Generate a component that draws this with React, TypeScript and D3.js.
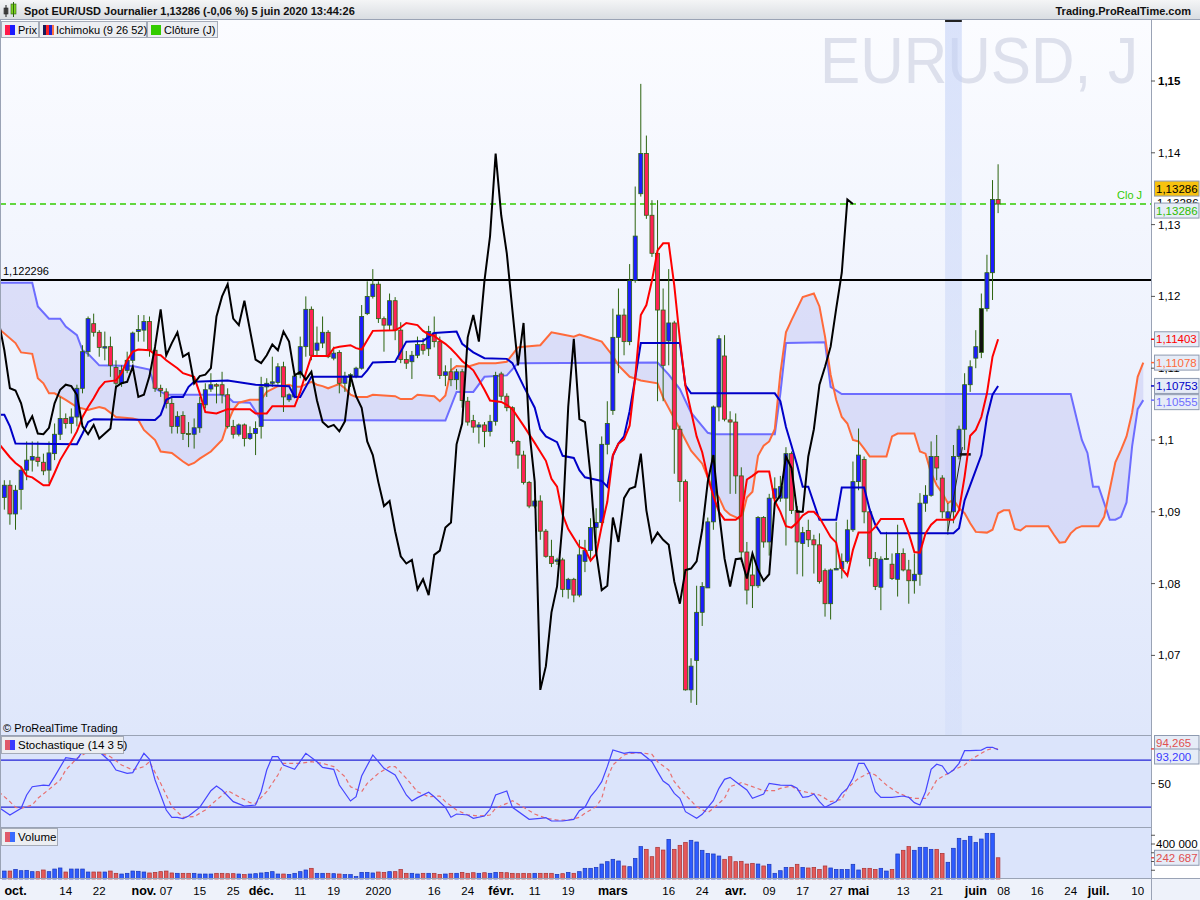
import React from "react";
import * as d3 from "d3";

// ---------- DATA (bar index 0 = 1 Oct 2019, daily bars, 25 Dec & 1 Jan skipped) ----------
const FIRST_BAR = -2;
const opens = [
  1.0920, 1.0937, 1.0897, 1.0931, 1.0958, 1.0972, 1.0976, 1.0969, 1.0958, 1.0981,
  1.1008, 1.1030, 1.1023, 1.1032, 1.1072, 1.1123, 1.1162, 1.1150, 1.1128, 1.1130,
  1.1101, 1.1079, 1.1097, 1.1111, 1.1151, 1.1153, 1.1165, 1.1125, 1.1072, 1.1067,
  1.1051, 1.1019, 1.1034, 1.1009, 1.1008, 1.1017, 1.1049, 1.1071, 1.1077, 1.1077,
  1.1063, 1.1019, 1.1008, 1.1021, 1.1002, 1.1009, 1.1019, 1.1074, 1.1079, 1.1080,
  1.1102, 1.1056, 1.1060, 1.1091, 1.1130, 1.1182, 1.1125, 1.1135, 1.1150, 1.1114,
  1.1122, 1.1079, 1.1089, 1.1089, 1.1100, 1.1176, 1.1200, 1.1217, 1.1169, 1.1160,
  1.1194, 1.1153, 1.1112, 1.1109, 1.1118, 1.1133, 1.1127, 1.1149, 1.1137, 1.1090,
  1.1095, 1.1084, 1.1095, 1.1054, 1.1027, 1.1018, 1.1021, 1.1012, 1.1026, 1.1092,
  1.1061, 1.1045, 1.0998, 1.0979, 1.0941, 1.0908, 1.0915, 1.0873, 1.0838, 1.0831,
  1.0833, 1.0792, 1.0806, 1.0784, 1.0831, 1.0846, 1.0878, 1.0885, 1.0994, 1.1041,
  1.1143, 1.1174, 1.1137, 1.1222, 1.1343, 1.1399, 1.1313, 1.1260, 1.1181, 1.1138,
  1.1163, 1.1015, 1.0942, 1.0652, 1.0693, 1.0760, 1.0794, 1.0886, 1.1046, 1.1117,
  1.1028, 1.1025, 1.0950, 1.0844, 1.0812, 1.0797, 1.0892, 1.0858, 1.0919, 1.0919,
  1.0919, 1.0981, 1.0902, 1.0856, 1.0874, 1.0861, 1.0854, 1.0818, 1.0772, 1.0819,
  1.0821, 1.0831, 1.0875, 1.0942, 1.0973, 1.0900, 1.0835, 1.0795, 1.0834, 1.0827,
  1.0806, 1.0842, 1.0819, 1.0804, 1.0813, 1.0912, 1.0923, 1.0977, 1.0947, 1.0891,
  1.0900, 1.0977, 1.1015, 1.1077, 1.1114, 1.1122, 1.1183, 1.1233, 1.1335,
];
const highs = [
  1.0944, 1.0944, 1.0937, 1.0963, 1.0998, 1.0998, 1.0998, 1.0981, 1.0998, 1.1023,
  1.1060, 1.1037, 1.1044, 1.1077, 1.1132, 1.1172, 1.1176, 1.1153, 1.1151, 1.1144,
  1.1111, 1.1104, 1.1123, 1.1151, 1.1174, 1.1174, 1.1172, 1.1130, 1.1077, 1.1072,
  1.1060, 1.1040, 1.1040, 1.1025, 1.1030, 1.1060, 1.1079, 1.1093, 1.1079, 1.1095,
  1.1072, 1.1028, 1.1023, 1.1023, 1.1019, 1.1026, 1.1088, 1.1086, 1.1116, 1.1107,
  1.1109, 1.1065, 1.1095, 1.1144, 1.1200, 1.1186, 1.1158, 1.1172, 1.1153, 1.1130,
  1.1125, 1.1095, 1.1093, 1.1102, 1.1188, 1.1221, 1.1238, 1.1221, 1.1172, 1.1204,
  1.1199, 1.1164, 1.1124, 1.1124, 1.1144, 1.1142, 1.1159, 1.1172, 1.1144, 1.1104,
  1.1114, 1.1099, 1.1099, 1.1060, 1.1035, 1.1025, 1.1025, 1.1035, 1.1095, 1.1095,
  1.1065, 1.1047, 1.1000, 1.0985, 1.0943, 1.0918, 1.0923, 1.0876, 1.0861, 1.0836,
  1.0836, 1.0808, 1.0808, 1.0861, 1.0861, 1.0891, 1.0905, 1.1005, 1.1054, 1.1183,
  1.1211, 1.1183, 1.1245, 1.1353, 1.1496, 1.1424, 1.1334, 1.1334, 1.1211, 1.1238,
  1.1166, 1.1020, 1.0945, 1.0696, 1.0797, 1.0802, 1.0892, 1.1048, 1.1146, 1.1146,
  1.1040, 1.1037, 1.0962, 1.0858, 1.0841, 1.0894, 1.0894, 1.0925, 1.0948, 1.0950,
  1.0990, 1.0984, 1.0908, 1.0879, 1.0889, 1.0868, 1.0870, 1.0821, 1.0821, 1.0886,
  1.0842, 1.0889, 1.0970, 1.1016, 1.0977, 1.0905, 1.0844, 1.0838, 1.0872, 1.0842,
  1.0882, 1.0849, 1.0833, 1.0842, 1.0926, 1.0937, 1.0998, 1.1007, 1.0951, 1.0912,
  1.0993, 1.1020, 1.1093, 1.1111, 1.1153, 1.1204, 1.1258, 1.1362, 1.1384,
];
const lows = [
  1.0903, 1.0882, 1.0875, 1.0903, 1.0944, 1.0956, 1.0963, 1.0951, 1.0940, 1.0972,
  1.1000, 1.1016, 1.1009, 1.1019, 1.1065, 1.1116, 1.1144, 1.1116, 1.1111, 1.1088,
  1.1072, 1.1074, 1.1093, 1.1107, 1.1137, 1.1137, 1.1116, 1.1067, 1.1060, 1.1044,
  1.1009, 1.1009, 1.1000, 1.0990, 1.0988, 1.1010, 1.1044, 1.1067, 1.1051, 1.1051,
  1.1016, 1.1002, 1.1005, 1.0991, 1.1000, 1.0979, 1.1002, 1.1060, 1.1074, 1.1077,
  1.1039, 1.1053, 1.1058, 1.1086, 1.1116, 1.1111, 1.1118, 1.1128, 1.1114, 1.1111,
  1.1065, 1.1067, 1.1074, 1.1086, 1.1098, 1.1174, 1.1197, 1.1163, 1.1123, 1.1153,
  1.1139, 1.1107, 1.1099, 1.1085, 1.1114, 1.1119, 1.1117, 1.1129, 1.1085, 1.1075,
  1.1075, 1.1070, 1.1045, 1.1020, 1.1010, 1.0995, 1.0990, 1.1005, 1.1020, 1.1055,
  1.1040, 1.0995, 1.0960, 1.0938, 1.0905, 1.0905, 1.0861, 1.0836, 1.0823, 1.0826,
  1.0781, 1.0779, 1.0774, 1.0781, 1.0816, 1.0831, 1.0856, 1.0881, 1.0980, 1.1035,
  1.1093, 1.1118, 1.1132, 1.1219, 1.1339, 1.1308, 1.1255, 1.1054, 1.1054, 1.1104,
  1.0953, 1.0914, 1.0651, 1.0634, 1.0631, 1.0741, 1.0794, 1.0875, 1.1026, 1.1026,
  1.0925, 1.0925, 1.0830, 1.0771, 1.0766, 1.0794, 1.0850, 1.0839, 1.0917, 1.0914,
  1.0853, 1.0897, 1.0813, 1.0810, 1.0851, 1.0814, 1.0800, 1.0754, 1.0750, 1.0819,
  1.0807, 1.0828, 1.0872, 1.0930, 1.0884, 1.0824, 1.0791, 1.0763, 1.0833, 1.0805,
  1.0782, 1.0817, 1.0772, 1.0786, 1.0797, 1.0900, 1.0921, 1.0944, 1.0891, 1.0868,
  1.0884, 1.0973, 1.0986, 1.1067, 1.1100, 1.1114, 1.1179, 1.1195, 1.1316,
];
const closes = [
  1.0937, 1.0897, 1.0930, 1.0958, 1.0972, 1.0977, 1.0970, 1.0957, 1.0982, 1.1008,
  1.1030, 1.1023, 1.1032, 1.1072, 1.1123, 1.1169, 1.1150, 1.1129, 1.1130, 1.1104,
  1.1079, 1.1097, 1.1111, 1.1149, 1.1154, 1.1165, 1.1125, 1.1072, 1.1069, 1.1051,
  1.1019, 1.1033, 1.1009, 1.1008, 1.1017, 1.1051, 1.1070, 1.1077, 1.1075, 1.1063,
  1.1019, 1.1008, 1.1021, 1.1002, 1.1009, 1.1016, 1.1074, 1.1079, 1.1081, 1.1102,
  1.1060, 1.1063, 1.1089, 1.1130, 1.1182, 1.1118, 1.1135, 1.1150, 1.1116, 1.1121,
  1.1079, 1.1089, 1.1091, 1.1100, 1.1172, 1.1200, 1.1217, 1.1169, 1.1160, 1.1194,
  1.1153, 1.1112, 1.1107, 1.1118, 1.1133, 1.1125, 1.1151, 1.1137, 1.1090, 1.1095,
  1.1084, 1.1095, 1.1055, 1.1025, 1.1018, 1.1021, 1.1012, 1.1026, 1.1090, 1.1061,
  1.1045, 1.0998, 1.0979, 1.0941, 1.0908, 1.0915, 1.0873, 1.0838, 1.0828, 1.0833,
  1.0792, 1.0806, 1.0784, 1.0840, 1.0846, 1.0878, 1.0885, 1.0994, 1.1023, 1.1143,
  1.1174, 1.1137, 1.1222, 1.1284, 1.1399, 1.1313, 1.1260, 1.1181, 1.1104, 1.1163,
  1.1015, 1.0942, 1.0652, 1.0685, 1.0760, 1.0796, 1.0886, 1.1046, 1.1141, 1.1029,
  1.1025, 1.0950, 1.0844, 1.0791, 1.0797, 1.0892, 1.0858, 1.0919, 1.0932, 1.0935,
  1.0981, 1.0902, 1.0858, 1.0871, 1.0861, 1.0854, 1.0803, 1.0772, 1.0819, 1.0821,
  1.0831, 1.0875, 1.0942, 1.0979, 1.0900, 1.0835, 1.0796, 1.0834, 1.0835, 1.0807,
  1.0842, 1.0819, 1.0804, 1.0813, 1.0912, 1.0923, 1.0977, 1.0961, 1.0900, 1.0900,
  1.0977, 1.1015, 1.1077, 1.1102, 1.1130, 1.1183, 1.1233, 1.1335, 1.13286,
];
// volume, thousands
const volumes = [
  91, 91, 110, 95, 99, 84, 84, 103, 84, 114,
  126, 80, 114, 114, 114, 80, 80, 80, 80, 91,
  65, 57, 65, 91, 88, 80, 69, 76, 84, 91,
  69, 65, 65, 65, 65, 57, 57, 57, 65, 65,
  61, 61, 57, 50, 57, 61, 69, 76, 84, 57,
  57, 53, 65, 84, 103, 122, 65, 65, 65, 61,
  57, 50, 50, 27, 76, 76, 69, 80, 76, 84,
  84, 110, 65, 65, 57, 65, 65, 65, 53, 57,
  65, 65, 76, 65, 72, 65, 72, 65, 76, 76,
  72, 65, 61, 65, 61, 65, 65, 65, 65, 53,
  61, 76, 65, 84, 122, 122, 133, 171, 198, 225,
  206, 149, 141, 236, 370, 339, 255, 362, 331, 453,
  339, 385, 419, 442, 423, 328, 293, 286, 263, 225,
  255, 198, 202, 171, 179, 171, 149, 168, 65, 95,
  133, 133, 168, 133, 126, 133, 110, 149, 126, 110,
  110, 110, 168, 103, 122, 122, 110, 122, 91, 110,
  286, 328, 370, 328, 362, 362, 339, 339, 293, 191,
  351, 465, 442, 488, 419, 457, 522, 522, 242.687,
];

// Ichimoku lines: [bar, price]
const tenkan: [number, number][] = [[-3,1.0995],[-1,1.0976],[0,1.0968],[1,1.0962],[2,1.0950],[3,1.0948],[5,1.0937],[6,1.0937],[7,1.0954],[8,1.0972],[10,1.0998],[11,1.1012],[12,1.1032],[13,1.1046],[14,1.1058],[15,1.1072],[16,1.1081],[18,1.1083],[19,1.1093],[20,1.1111],[21,1.1123],[22,1.1126],[24,1.1125],[25,1.1119],[26,1.1118],[27,1.1111],[29,1.1100],[30,1.1093],[32,1.1088],[33,1.1065],[34,1.1039],[36,1.1037],[38,1.1043],[42,1.1043],[43,1.1037],[45,1.1037],[46,1.1047],[50,1.1047],[51,1.1067],[52,1.1093],[53,1.1117],[56,1.1117],[57,1.1128],[58,1.1130],[60,1.1132],[61,1.1128],[62,1.1126],[63,1.1139],[64,1.1152],[68,1.1153],[69,1.1157],[70,1.1163],[72,1.1160],[73,1.1152],[74,1.1147],[75,1.1145],[76,1.1139],[77,1.1134],[78,1.1127],[79,1.1119],[80,1.1110],[82,1.1097],[83,1.1084],[84,1.1070],[85,1.1055],[87,1.1053],[88,1.1049],[89,1.1043],[91,1.1020],[93,1.0996],[95,1.0971],[96,1.0946],[97,1.0935],[98,1.0896],[99,1.0876],[101,1.0851],[102,1.0848],[103,1.0832],[104,1.0841],[105,1.0880],[106,1.0914],[107,1.0979],[108,1.0995],[109,1.1001],[110,1.1020],[111,1.1087],[112,1.1174],[113,1.1188],[114,1.1222],[115,1.1264],[116,1.1274],[117,1.1274],[118,1.1215],[119,1.1140],[120,1.1075],[121,1.1040],[122,1.1005],[123,1.0983],[124,1.0948],[125,1.0922],[126,1.0900],[127,1.0889],[129,1.0889],[130,1.0895],[131,1.0945],[132,1.0950],[133,1.0956],[135,1.0956],[136,1.0915],[137,1.0900],[138,1.0880],[139,1.0878],[140,1.0885],[141,1.0895],[142,1.0900],[143,1.0900],[144,1.0892],[146,1.0865],[147,1.0857],[148,1.0821],[149,1.0811],[150,1.0847],[151,1.0871],[153,1.0871],[154,1.0879],[155,1.0890],[159,1.0890],[160,1.0870],[161,1.0844],[162,1.0843],[163,1.0870],[164,1.0882],[165,1.0889],[168,1.0889],[169,1.0902],[170,1.0949],[171,1.1006],[172,1.1014],[173,1.1032],[174,1.1065],[175,1.1116],[176,1.11403]];
const kijun: [number, number][] = [[-3,1.1035],[-2,1.1035],[-1,1.1019],[0,1.0995],[11,1.0994],[12,1.1009],[13,1.1025],[14,1.1029],[25,1.1028],[26,1.1035],[27,1.1056],[28,1.1060],[30,1.1060],[31,1.1074],[32,1.1081],[38,1.1083],[43,1.1077],[49,1.1075],[50,1.1060],[51,1.1060],[52,1.1074],[53,1.1088],[62,1.1088],[63,1.1097],[64,1.1108],[68,1.1109],[70,1.1137],[73,1.1138],[75,1.1149],[79,1.1151],[80,1.1134],[82,1.1122],[84,1.1114],[88,1.1113],[89,1.1107],[91,1.1075],[93,1.1045],[94,1.1015],[95,1.1005],[97,1.0997],[98,1.0978],[100,1.0975],[101,1.0958],[102,1.0948],[105,1.0943],[106,1.0935],[107,1.0978],[108,1.0995],[109,1.1005],[110,1.1040],[111,1.1086],[112,1.1135],[119,1.1135],[120,1.1076],[121,1.1065],[136,1.1065],[137,1.1054],[138,1.1018],[139,1.0992],[140,1.0965],[141,1.0935],[142,1.0935],[144,1.0889],[147,1.0889],[148,1.0934],[152,1.0934],[153,1.0903],[154,1.0882],[155,1.0870],[168,1.0870],[169,1.0877],[170,1.0916],[173,1.0979],[174,1.1032],[175,1.1063],[176,1.10753]];
const senkouA: [number, number][] = [[-3,1.1155],[0,1.1135],[1,1.1122],[3,1.1120],[4,1.1086],[5,1.1079],[6,1.1065],[7,1.1065],[9,1.1056],[11,1.1046],[13,1.1042],[15,1.1046],[16,1.1044],[18,1.1032],[21,1.1030],[22,1.1028],[23,1.1014],[25,1.1000],[26,1.0984],[28,1.0982],[30,1.0970],[31,1.0965],[32,1.0968],[33,1.0974],[35,1.0984],[37,1.1000],[38,1.1024],[39,1.1042],[40,1.1052],[42,1.1056],[44,1.1056],[45,1.1067],[47,1.1075],[49,1.1077],[50,1.1074],[51,1.1074],[53,1.1081],[54,1.1077],[55,1.1075],[56,1.1072],[57,1.1075],[58,1.1078],[59,1.1072],[60,1.1063],[61,1.1060],[63,1.1060],[64,1.1063],[68,1.1061],[69,1.1057],[71,1.1057],[72,1.1063],[75,1.1061],[76,1.1054],[77,1.1062],[78,1.1097],[79,1.1103],[81,1.1102],[83,1.1107],[86,1.1107],[88,1.1109],[90,1.1129],[91,1.1130],[94,1.1132],[96,1.1150],[98,1.1147],[100,1.1144],[101,1.1147],[103,1.1142],[105,1.1137],[107,1.1117],[108,1.1104],[110,1.1088],[112,1.1083],[115,1.1079],[116,1.1059],[118,1.1030],[119,1.1015],[121,1.0985],[123,1.0967],[124,1.0948],[125,1.0931],[126,1.0920],[127,1.0903],[128,1.0896],[130,1.0889],[131,1.0920],[132,1.0928],[133,1.0978],[134,1.0992],[135,1.0998],[136,1.1015],[137,1.1093],[138,1.1150],[139,1.1167],[141,1.1199],[143,1.1204],[144,1.1186],[145,1.1144],[146,1.1091],[147,1.1056],[148,1.1032],[149,1.1023],[150,1.1000],[151,1.0998],[152,1.0988],[153,1.0977],[156,1.0977],[157,1.1005],[158,1.1009],[161,1.1009],[162,1.0984],[163,1.0981],[164,1.0954],[165,1.0937],[166,1.0926],[167,1.0912],[168,1.0917],[169,1.0905],[170,1.0898],[171,1.0884],[172,1.0872],[174,1.0871],[175,1.0875],[176,1.0898],[177,1.0902],[178,1.0902],[179,1.0876],[180,1.0874],[181,1.0880],[185,1.0880],[186,1.0868],[187,1.0857],[188,1.0858],[189,1.0870],[190,1.0877],[191,1.0880],[194,1.0880],[195,1.0893],[196,1.0931],[197,1.0969],[198,1.0986],[199,1.1005],[200,1.1038],[201,1.1088],[202,1.11078]];
const senkouB: [number, number][] = [[-3,1.1219],[3,1.1219],[4,1.1186],[6,1.1169],[8,1.1169],[9,1.1158],[11,1.1146],[12,1.1125],[13,1.1120],[15,1.1104],[21,1.1103],[24,1.1098],[25,1.1072],[27,1.1063],[37,1.1063],[38,1.1060],[39,1.1053],[42,1.1052],[44,1.1028],[77,1.1027],[79,1.1067],[82,1.1067],[84,1.1088],[88,1.1090],[90,1.1107],[115,1.1108],[117,1.1091],[119,1.1071],[121,1.1038],[124,1.1010],[125,1.1008],[136,1.1008],[137,1.1065],[138,1.1135],[145,1.1136],[146,1.1074],[148,1.1064],[189,1.1064],[190,1.1032],[191,1.1000],[192,1.0982],[193,1.0935],[194,1.0935],[195,1.0912],[196,1.0889],[197,1.0889],[198,1.0893],[199,1.0913],[200,1.0991],[201,1.1043],[202,1.10555]];

// Stochastic (14 3 5): [bar, value]
const stochK: [number, number][] = [[-3,19.6],[-1,9.8],[1,18.4],[2,35.4],[3,46],[5,48.1],[6,47.3],[7,58.8],[9,83.1],[11,81],[12,90.7],[14,92],[15,90.7],[17,77.9],[18,67.3],[20,63],[21,63.9],[23,88.6],[24,81],[25,54.5],[27,16.2],[28,6.9],[29,6.9],[30,5.2],[31,8.6],[33,19.6],[35,40.9],[36,46.9],[37,41.8],[39,26.9],[41,21.3],[43,22.6],[44,39.6],[45,67.3],[46,84.3],[47,84.3],[48,73.7],[50,68.2],[52,88.6],[54,77.9],[55,70.7],[57,68.2],[58,48.1],[60,27.7],[61,33.2],[62,59.6],[64,86.5],[66,69.4],[68,60.9],[70,35.4],[71,27.7],[72,32],[74,38.8],[75,33.2],[77,19.6],[78,6.9],[79,11.1],[81,9.8],[82,5.6],[84,8.6],[85,17.1],[86,35.4],[88,40.5],[89,19.6],[92,4.3],[94,5.6],[95,6.4],[96,2.2],[98,2.2],[100,4.3],[101,15.4],[102,19.6],[103,33.2],[104,41.8],[105,52.4],[106,71.6],[107,92.8],[109,88.6],[110,89.9],[112,89.4],[114,77.9],[115,65.2],[116,53.3],[117,48.1],[118,37.5],[119,31.1],[120,14.1],[122,5.6],[123,10.7],[125,28.1],[126,43.9],[127,55.4],[128,57.9],[129,52.4],[131,41.8],[132,31.1],[134,36.7],[135,50.3],[137,48.1],[139,47.7],[140,43.9],[141,32.4],[142,33.2],[143,36.7],[144,26.9],[145,19.6],[147,26.9],[148,37.5],[149,43.9],[150,56.7],[151,75.8],[152,75.8],[153,63],[154,39.6],[155,32.4],[157,32.4],[159,34.1],[160,32.4],[161,25.6],[162,22.6],[163,39.6],[164,68.2],[165,74.6],[166,72.4],[167,62.2],[168,67.3],[169,75.8],[170,92],[171,92],[173,92.8],[174,96.3],[175,96.3],[176,93.2]];
const stochD: [number, number][] = [[-3,39.6],[-1,26.9],[0,19.6],[1,18.4],[3,22.6],[4,31.1],[6,42.6],[8,54.5],[9,67.3],[11,82.2],[13,90.7],[15,89.4],[17,84.3],[19,73.7],[21,67.3],[23,71.6],[24,77.9],[26,50.3],[28,20.5],[30,6.9],[32,7.7],[34,16.2],[36,29],[38,40.9],[40,33.2],[42,25.6],[43,24.7],[45,39.6],[47,60.9],[48,75.8],[51,75.8],[53,77.9],[55,75.8],[57,71.6],[59,58.8],[60,46],[62,39.6],[63,50.3],[65,63],[67,71.6],[68,71.6],[70,56.7],[72,39.6],[74,33.2],[76,34.1],[77,26.9],[79,16.2],[81,9.8],[83,8.6],[85,9.8],[86,18.4],[88,24.7],[89,28.1],[91,19.6],[93,11.1],[95,5.6],[97,3.4],[99,3.4],[101,6.9],[102,12],[104,20.5],[105,31.1],[106,56.7],[107,73.7],[109,86.5],[110,88.6],[112,89.4],[114,87.3],[115,77.9],[117,67.3],[118,52.4],[120,35.4],[122,20.5],[124,12.8],[125,18.4],[127,31.1],[128,46],[130,51.1],[132,46],[134,40.9],[136,40.9],[137,43.9],[139,46.9],[140,41.8],[142,38.4],[144,35.4],[146,26.9],[148,29.8],[149,43.9],[151,56.7],[153,63.9],[154,60.9],[156,48.1],[158,38.4],[160,32.4],[161,31.1],[163,31.1],[164,41.8],[165,54.5],[167,63],[168,67.3],[170,73.7],[171,80],[173,88.6],[174,92.8],[175,94.9],[176,94.265]];

// x-axis labels
const axisLabels = ["oct.", "14", "22", "nov.", "07", "15", "25", "déc.", "11", "19", "2020", "16", "24", "févr.", "11", "19", "mars", "16", "24", "avr.", "09", "17", "27", "mai", "13", "21", "juin", "08", "16", "24", "juil.", "10"];
const axisBars = [0, 9, 15, 23, 27, 33, 39, 44, 51, 57, 65, 75, 81, 87, 93, 99, 107, 117, 123, 129, 135, 141, 147, 151, 159, 165, 172, 177, 183, 189, 194, 201];
const priceTicks = [1.07, 1.08, 1.09, 1.10, 1.11, 1.12, 1.13, 1.14, 1.15];
const volumeTicks = [100, 200, 300, 400, 500];
const refLevel = 1.122296;
const lastClose = 1.13286;
const stochLevels = [20, 80];
const highlightBars = [167, 169];
// user drawings on the chart: short trend segment and horizontal mark; bar drawn in black
const trendSegment: [number, number][] = [[167, 1.0873], [169.6, 1.0990]];
const markSegment: [number, number][] = [[169.1, 1.0980], [171.1, 1.0980]];
const blackBars = [173];

const FONT = "'Liberation Sans', Arial, sans-serif";

export default function App() {
  const PR = 1151;
  const MAIN_T = 20, MAIN_B = 735, ST_B = 827, VOL_B = 878;
  const x = d3.scaleLinear().domain([0, 176]).range([15.5, 15.5 + 5.583 * 176]);
  const y = d3.scaleLinear().domain([1.07, 1.15]).range([655.4, 81]);
  const ys = d3.scaleLinear().domain([0, 100]).range([822.7, 744.4]);
  const yv = d3.scaleLinear().domain([0, 400]).range([879, 844]);

  const bars = closes.map((c, k) => ({ i: k + FIRST_BAR, o: opens[k], h: highs[k], l: lows[k], c, v: volumes[k] }));
  const pline = d3.line<[number, number]>().x((d) => x(d[0])).y((d) => y(d[1]));
  const sline = d3.line<[number, number]>().x((d) => x(d[0])).y((d) => ys(d[1]));
  const chikou: [number, number][] = bars.map((b) => [b.i - 26, b.c]);
  const cloud = (pline([...senkouA, ...senkouB.slice().reverse()]) || "") + "Z";

  const fmtPrice = (v: number) => String(+v.toFixed(2)).replace(".", ",");
  const fmt5 = (v: number) => v.toFixed(5).replace(".", ",");

  const UP = "#1c1cff", DOWN = "#ff2255", EDGE = "#2d6410";

  const box = (val: string, cy: number, color: string, bg = "#e6ecf7", key?: string) => (
    <g key={key || val + cy}>
      <rect x={1154.5} y={cy - 7.5} width={44.5} height={15} fill={bg} stroke="#8e9ab0" strokeWidth={1} />
      <text x={1156} y={cy + 4.2} fontSize={11.5} fill={color} fontFamily={FONT}>{val}</text>
    </g>
  );

  return (
    <svg width={1200} height={900} style={{ position: "absolute", left: 0, top: 0, background: "#fff" }} fontFamily={FONT}>
      <defs>
        <linearGradient id="mainbg" x1="0" y1="0" x2="0" y2="1">
          <stop offset="0" stopColor="#fbfcff" />
          <stop offset="1" stopColor="#dfe7fb" />
        </linearGradient>
        <linearGradient id="hdr" x1="0" y1="0" x2="0" y2="1">
          <stop offset="0" stopColor="#f4f5f6" />
          <stop offset="1" stopColor="#d8dce1" />
        </linearGradient>
        <linearGradient id="band" x1="0" y1="0" x2="0" y2="1">
          <stop offset="0" stopColor="#c4d2f7" stopOpacity={0.6} />
          <stop offset="1" stopColor="#c4d2f7" stopOpacity={0.25} />
        </linearGradient>
        <clipPath id="mainclip"><rect x={0} y={MAIN_T} width={PR} height={MAIN_B - MAIN_T} /></clipPath>
        <clipPath id="stclip"><rect x={0} y={MAIN_B} width={PR} height={ST_B - MAIN_B} /></clipPath>
      </defs>

      {/* backgrounds */}
      <rect x={0} y={MAIN_T} width={PR} height={MAIN_B - MAIN_T} fill="url(#mainbg)" />
      <rect x={0} y={MAIN_B} width={PR} height={ST_B - MAIN_B} fill="#dbe4fb" />
      <rect x={0} y={ST_B} width={PR} height={VOL_B - ST_B} fill="#dbe4fb" />
      <rect x={0} y={VOL_B} width={1200} height={900 - VOL_B} fill="#eef2fa" />
      <rect x={PR} y={MAIN_T} width={1200 - PR} height={VOL_B - MAIN_T} fill="#ffffff" />

      {/* watermark */}
      <text x={1138} y={83} textAnchor="end" fontSize={64} fill="#dde0ec" textLength={318} lengthAdjust="spacingAndGlyphs">EURUSD, J</text>

      <g clipPath="url(#mainclip)">
        {/* highlight band */}
        <rect x={x(highlightBars[0] - 0.5)} y={MAIN_T} width={x(highlightBars[1] + 0.5) - x(highlightBars[0] - 0.5)} height={MAIN_B - MAIN_T} fill="url(#band)" />
        <rect x={x(highlightBars[0] - 0.5)} y={MAIN_T} width={x(highlightBars[1] + 0.5) - x(highlightBars[0] - 0.5)} height={2} fill="#222" />

        {/* cloud */}
        <path d={cloud} fill="#c6c8f4" opacity={0.5} />
        <path d={pline(senkouB) || ""} fill="none" stroke="#6d6dff" strokeWidth={2} />
        <path d={pline(senkouA) || ""} fill="none" stroke="#ff6a3a" strokeWidth={2} />

        {/* reference lines */}
        <line x1={0} x2={PR} y1={y(refLevel)} y2={y(refLevel)} stroke="#000" strokeWidth={2} />
        <line x1={0} x2={PR} y1={y(lastClose)} y2={y(lastClose)} stroke="#33cc00" strokeWidth={1.6} strokeDasharray="6 4" />

        {/* candles */}
        {bars.map((b) => {
          const cx = x(b.i);
          const up = b.c >= b.o;
          const top = y(Math.max(b.o, b.c));
          const hgt = Math.max(1, Math.abs(y(b.o) - y(b.c)));
          const fill = blackBars.includes(b.i) ? "#111" : up ? UP : DOWN;
          return (
            <g key={"c" + b.i}>
              <line x1={cx} x2={cx} y1={y(b.h)} y2={y(b.l)} stroke={EDGE} strokeWidth={1} />
              <rect x={cx - 2} y={top} width={4} height={hgt} fill={fill} stroke={EDGE} strokeWidth={0.8} />
            </g>
          );
        })}

        {/* drawings */}
        <path d={pline(trendSegment) || ""} fill="none" stroke="#222" strokeWidth={1} />
        <path d={pline(markSegment) || ""} fill="none" stroke="#111" strokeWidth={2.5} />

        {/* ichimoku lines */}
        <path d={pline(kijun) || ""} fill="none" stroke="#0000c8" strokeWidth={2} />
        <path d={pline(tenkan) || ""} fill="none" stroke="#ff0000" strokeWidth={2} />
        <path d={pline(chikou) || ""} fill="none" stroke="#000" strokeWidth={2} />
      </g>

      <text x={3} y={y(refLevel) - 5} fontSize={11} fill="#000">1,122296</text>
      <text x={1117} y={y(lastClose) - 5} fontSize={11} fill="#33cc00">Clo J</text>
      <text x={3} y={732} fontSize={11} fill="#000">© ProRealTime Trading</text>

      {/* stochastic panel */}
      <g clipPath="url(#stclip)">
        {stochLevels.map((lv) => (
          <line key={"lv" + lv} x1={0} x2={PR} y1={ys(lv)} y2={ys(lv)} stroke="#2323d6" strokeWidth={1.2} />
        ))}
        <path d={sline(stochD) || ""} fill="none" stroke="#e87070" strokeWidth={1.2} strokeDasharray="4 3" />
        <path d={sline(stochK) || ""} fill="none" stroke="#4646ff" strokeWidth={1.2} />
      </g>

      {/* volume */}
      {bars.map((b) => {
        const up = b.c >= b.o;
        return (
          <rect key={"v" + b.i} x={x(b.i) - 1.8} y={yv(b.v)} width={3.6} height={yv(0) - yv(b.v)}
            fill={up ? "#2e5cff" : "#e45a5a"} stroke={up ? "#1a36b8" : "#a83232"} strokeWidth={0.7} />
        );
      })}

      {/* panel borders */}
      <line x1={0} x2={PR} y1={MAIN_B + 0.5} y2={MAIN_B + 0.5} stroke="#9aa3b5" />
      <line x1={0} x2={PR} y1={ST_B + 0.5} y2={ST_B + 0.5} stroke="#9aa3b5" />
      <line x1={0} x2={1200} y1={VOL_B + 0.5} y2={VOL_B + 0.5} stroke="#9aa3b5" />
      <line x1={PR + 0.5} x2={PR + 0.5} y1={MAIN_T} y2={900} stroke="#9aa3b5" />
      <line x1={0.5} x2={0.5} y1={MAIN_T} y2={VOL_B} stroke="#9aa3b5" />

      {/* price axis */}
      {priceTicks.map((p) => (
        <g key={"pt" + p}>
          <line x1={PR} x2={PR + 4} y1={y(p)} y2={y(p)} stroke="#555" />
          <text x={PR + 7} y={y(p) + 4} fontSize={11.5} fontWeight={p === 1.15 ? "bold" : "normal"} fill="#000">{fmtPrice(p)}</text>
        </g>
      ))}
      {/* last value labels */}
      <text x={1157} y={y(lastClose) + 3} fontSize={11.5} fill="#000">{fmt5(lastClose)}</text>
      {box(fmt5(lastClose), y(lastClose) - 15.5, "#000", "#f7c20f", "gold")}
      {box(fmt5(lastClose), y(lastClose) + 6.5, "#2dbb00", "#e6ecf7", "green")}
      {[
        { v: tenkan[tenkan.length - 1][1], c: "#ff0000", dy: 0 },
        { v: senkouA[senkouA.length - 1][1], c: "#ff6a3a", dy: 0 },
        { v: kijun[kijun.length - 1][1], c: "#0000c8", dy: 0 },
        { v: senkouB[senkouB.length - 1][1], c: "#6d6dff", dy: 2 },
      ].map((d) => (
        <g key={"lab" + d.v}>
          <line x1={PR} x2={PR + 4} y1={y(d.v)} y2={y(d.v)} stroke={d.c} strokeWidth={1.5} />
          {box(fmt5(d.v), y(d.v) + d.dy, d.c)}
        </g>
      ))}

      {/* stoch axis */}
      <line x1={PR} x2={PR + 4} y1={ys(50)} y2={ys(50)} stroke="#555" />
      <text x={PR + 7} y={ys(50) + 4} fontSize={11.5} fill="#000">50</text>
      <line x1={PR} x2={PR + 4} y1={ys(94.265)} y2={ys(94.265)} stroke="#e05050" strokeWidth={1.5} />
      {box(stochD[stochD.length - 1][1].toFixed(3).replace(".", ","), 743, "#e05050", "#e6ecf7", "sd")}
      {box(stochK[stochK.length - 1][1].toFixed(3).replace(".", ","), 756.5, "#3a3aff", "#e6ecf7", "sk")}

      {/* volume axis */}
      {volumeTicks.map((t) => (
        <line key={"vt" + t} x1={PR} x2={PR + 4} y1={yv(t)} y2={yv(t)} stroke="#555" />
      ))}
      <text x={PR + 5} y={yv(400) + 4} fontSize={11.5} fill="#000">400 000</text>
      <line x1={PR} x2={PR + 4} y1={yv(volumes[volumes.length - 1])} y2={yv(volumes[volumes.length - 1])} stroke="#e05050" strokeWidth={1.5} />
      {box("242 687", yv(volumes[volumes.length - 1]), "#e05050", "#e6ecf7", "vl")}

      {/* time axis */}
      {axisLabels.map((lab, k) => {
        const bold = isNaN(+lab);
        return (
          <text key={"ax" + k} x={x(axisBars[k])} y={895} textAnchor="middle" fontSize={bold ? 12.5 : 11.5} fontWeight={bold ? "bold" : "normal"} fill="#000">{lab}</text>
        );
      })}

      {/* header */}
      <rect x={0} y={0} width={1200} height={MAIN_T} fill="url(#hdr)" />
      <line x1={0} x2={1200} y1={MAIN_T - 0.5} y2={MAIN_T - 0.5} stroke="#9aa3b5" />
      <rect x={4} y={8} width={4} height={6} fill="#555" stroke="#222" strokeWidth={0.6} />
      <line x1={6} x2={6} y1={5} y2={17} stroke="#222" />
      <rect x={11} y={4} width={5} height={10} fill="#7ed321" stroke="#2d6410" strokeWidth={0.6} />
      <line x1={13.5} x2={13.5} y1={2} y2={17} stroke="#2d6410" />
      <text x={24} y={15} fontSize={11} fontWeight="bold" fill="#111">Spot EUR/USD Journalier 1,13286 (-0,06 %) 5 juin 2020 13:44:26</text>
      <text x={1191} y={15} textAnchor="end" fontSize={11} fontWeight="bold" fill="#111">Trading.ProRealTime.com</text>

      {/* legend boxes */}
      <g>
        <rect x={1.5} y={21.5} width={37} height={16} fill="#eceef2" stroke="#a5abb8" />
        <rect x={5} y={25} width={5} height={10} fill="#ff1a4a" />
        <rect x={10} y={25} width={5} height={10} fill="#1a1aff" />
        <text x={18} y={34} fontSize={11} fill="#000">Prix</text>
        <rect x={39.5} y={21.5} width={107} height={16} fill="#eceef2" stroke="#a5abb8" />
        <rect x={43} y={25} width={3} height={10} fill="#1a1a5a" />
        <rect x={46} y={25} width={3} height={10} fill="#ff2020" />
        <rect x={49} y={25} width={3} height={10} fill="#2020d0" />
        <rect x={52} y={25} width={2} height={10} fill="#ff7040" />
        <text x={56} y={34} fontSize={11} fill="#000">Ichimoku (9 26 52)</text>
        <rect x={147.5} y={21.5} width={70} height={16} fill="#eceef2" stroke="#a5abb8" />
        <rect x={151} y={25} width={10} height={10} fill="#33cc00" />
        <text x={164} y={34} fontSize={11} fill="#000">Clôture (J)</text>

        <rect x={1.5} y={736.5} width={122} height={17} fill="#eceef2" stroke="#a5abb8" />
        <rect x={5} y={740} width={5} height={10} fill="#e05a6a" />
        <rect x={10} y={740} width={5} height={10} fill="#3a3aff" />
        <text x={18} y={749} fontSize={11.5} fill="#000">Stochastique (14 3 5)</text>
        <rect x={1.5} y={828.5} width={56} height={17} fill="#eceef2" stroke="#a5abb8" />
        <rect x={5} y={832} width={5} height={10} fill="#e05a6a" />
        <rect x={10} y={832} width={5} height={10} fill="#3a6aff" />
        <text x={18} y={841} fontSize={11.5} fill="#000">Volume</text>
      </g>
    </svg>
  );
}
